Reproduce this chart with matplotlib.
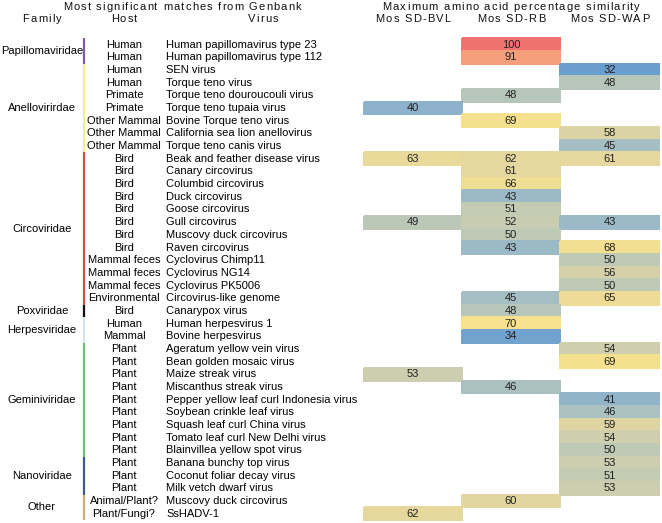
import numpy as np
import matplotlib
matplotlib.use("Agg")
import matplotlib.pyplot as plt
from matplotlib.colors import LinearSegmentedColormap, Normalize
from matplotlib import font_manager
from matplotlib.ft2font import FT2Font

# ---- data ----
families = ["Papillomaviridae", "Anellovirirdae", "Circoviridae", "Poxviridae",
            "Herpesviridae", "Geminiviridae", "Nanoviridae", "Other"]
family_rows = [2, 7, 12, 1, 2, 9, 3, 2]
family_colors = ["#7E5CA8", "#F5EC8C", "#D4504E", "#111111",
                 "#D3E6EE", "#6DC070", "#3E5B8E", "#CDAE74"]

hosts = ["Human", "Human", "Human", "Human", "Primate", "Primate",
         "Other Mammal", "Other Mammal", "Other Mammal",
         "Bird", "Bird", "Bird", "Bird", "Bird", "Bird", "Bird", "Bird",
         "Mammal feces", "Mammal feces", "Mammal feces", "Environmental",
         "Bird", "Human", "Mammal",
         "Plant", "Plant", "Plant", "Plant", "Plant", "Plant", "Plant", "Plant", "Plant",
         "Plant", "Plant", "Plant",
         "Animal/Plant?", "Plant/Fungi?"]

viruses = ["Human papillomavirus type 23", "Human papillomavirus type 112",
           "SEN virus", "Torque teno virus", "Torque teno douroucouli virus",
           "Torque teno tupaia virus", "Bovine Torque teno virus",
           "California sea lion anellovirus", "Torque teno canis virus",
           "Beak and feather disease virus", "Canary circovirus", "Columbid circovirus",
           "Duck circovirus", "Goose circovirus", "Gull circovirus",
           "Muscovy duck circovirus", "Raven circovirus", "Cyclovirus Chimp11",
           "Cyclovirus NG14", "Cyclovirus PK5006", "Circovirus-like genome",
           "Canarypox virus", "Human herpesvirus 1", "Bovine herpesvirus",
           "Ageratum yellow vein virus", "Bean golden mosaic virus", "Maize streak virus",
           "Miscanthus streak virus", "Pepper yellow leaf curl Indonesia virus",
           "Soybean crinkle leaf virus", "Squash leaf curl China virus",
           "Tomato leaf curl New Delhi virus", "Blainvillea yellow spot virus",
           "Banana bunchy top virus", "Coconut foliar decay virus", "Milk vetch dwarf virus",
           "Muscovy duck circovirus", "SsHADV-1"]

samples = ["Mos SD-BVL", "Mos SD-RB", "Mos SD-WAP"]
n = np.nan
bvl = [n, n, n, n, n, 40, n, n, n, 63, n, n, n, n, 49, n, n, n, n, n, n,
       n, n, n, n, n, 53, n, n, n, n, n, n, n, n, n, n, 62]
rb = [100, 91, n, n, 48, n, 69, n, n, 62, 61, 66, 43, 51, 52, 50, 43, n, n, n, 45,
      48, 70, 34, n, n, n, 46, n, n, n, n, n, n, n, n, 60, n]
wap = [n, n, 32, 48, n, n, n, 58, 45, 61, n, n, n, n, 43, n, 68, 50, 56, 50, 65,
       n, n, n, 54, 69, n, n, 41, 46, 59, 54, 50, 53, 51, 53, n, n]

# colour scale
scale_vals = [32, 40, 45, 48, 52, 56, 60, 65, 70, 91, 100]
scale_cols = ["#6A9ECF", "#8EB2CB", "#A6BEC4", "#B6C6BA", "#C8CDB1", "#D6D1A8",
              "#E2D6A0", "#EEDC96", "#F7E18C", "#F4A07A", "#EF7170"]

# ---- layout (pixels) ----
W, H = 662, 523
top, pitch = 38.3, 12.68
col_edges = [364, 462, 560, 659]
fam_x, host_x, virus_x, line_x = 42, 124, 166.5, 84
FS = 8
TRACK = 1.2

plt.rcParams['font.family'] = ['Liberation Sans', 'DejaVu Sans']
fig = plt.figure(figsize=(W / 100, H / 100), dpi=100)
ax = fig.add_axes([0, 0, 1, 1])
ax.set_xlim(0, W)
ax.set_ylim(H, 0)
ax.axis('off')

font = FT2Font(font_manager.findfont(font_manager.FontProperties(family='Liberation Sans')))
font.set_size(FS, 100)


def spaced_text(x, y, s, track=TRACK):
    """Letter-spaced centred header text."""
    adv = []
    for c in s:
        g = font.load_char(ord(c))
        adv.append(g.linearHoriAdvance / 65536)
    total = sum(adv) + track * (len(s) - 1)
    pos = x - total / 2
    for c, a in zip(s, adv):
        ax.text(pos, y, c, fontsize=FS, ha='left', va='center', color='#111111')
        pos += a + track


# headers
spaced_text(182, 7, "Most significant matches from Genbank")
spaced_text(42, 19.5, "Family")
spaced_text(124, 19.5, "Host")
spaced_text(263, 19.5, "Virus")
spaced_text(511, 7, "Maximum amino acid percentage similarity")
for i, s in enumerate(samples):
    spaced_text((col_edges[i] + col_edges[i + 1]) / 2, 19.5, s)

nrows = len(viruses)
row_y = top + pitch * (np.arange(nrows) + 0.5)

# heatmap cells
vals = np.ma.masked_invalid(np.array([bvl, rb, wap]).T)
cmap = LinearSegmentedColormap.from_list(
    "sim", [((v - 32) / 68, c) for v, c in zip(scale_vals, scale_cols)])
norm = Normalize(32, 100)
y_edges = top + pitch * np.arange(nrows + 1)
ax.pcolormesh(col_edges, y_edges, vals, cmap=cmap, norm=norm,
              edgecolors='face', linewidth=0.2)
for r in range(nrows):
    for c in range(3):
        if not np.ma.is_masked(vals[r, c]):
            ax.text((col_edges[c] + col_edges[c + 1]) / 2, row_y[r], f"{int(vals[r, c])}",
                    fontsize=FS, ha='center', va='center', color='#222222')

# host / virus text
for r in range(nrows):
    ax.text(host_x, row_y[r], hosts[r], fontsize=FS, ha='center', va='center')
    ax.text(virus_x, row_y[r], viruses[r], fontsize=FS, ha='left', va='center')

# family labels and coloured bars
start = 0
for fam, cnt, col in zip(families, family_rows, family_colors):
    y0 = top + pitch * start
    y1 = top + pitch * (start + cnt)
    ax.vlines(line_x, y0, y1, colors=col, linewidth=1.6)
    ax.text(fam_x, (y0 + y1) / 2, fam, fontsize=FS, ha='center', va='center')
    start += cnt

fig.savefig("out.png", dpi=100)
